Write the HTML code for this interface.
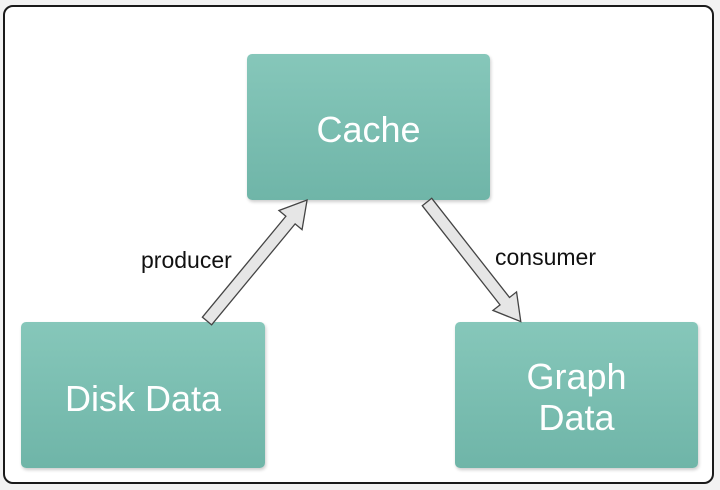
<!DOCTYPE html>
<html><head><style>
html,body{margin:0;padding:0;background:#f2f2f2;}
body{width:720px;height:490px;position:relative;overflow:hidden;font-family:"Liberation Sans",sans-serif;}
.frame{position:absolute;left:3px;top:5px;width:711px;height:479px;border:2px solid #1a1a1a;border-radius:10px;background:#fff;box-sizing:border-box;}
.box{position:absolute;background:linear-gradient(#86c7ba,#6fb5a8);border-radius:5px;box-shadow:1px 2px 3px rgba(0,0,0,0.2);color:#fff;font-size:36px;display:flex;align-items:center;justify-content:center;text-align:center;line-height:41px;box-sizing:border-box;padding-top:4px;}
.lbl{position:absolute;font-size:23px;color:#111;line-height:26px;}
</style></head><body>
<div class="frame"></div>
<div class="box" style="left:247px;top:54px;width:243px;height:146px;">Cache</div>
<div class="box" style="left:21px;top:322px;width:244px;height:146px;padding-top:6px;">Disk Data</div>
<div class="box" style="left:455px;top:322px;width:243px;height:146px;">Graph<br>Data</div>
<div class="lbl" style="left:141px;top:247px;">producer</div>
<div class="lbl" style="left:495px;top:244px;">consumer</div>
<svg width="720" height="490" style="position:absolute;left:0;top:0">
<g transform="translate(207,321) rotate(-50.4)">
<polygon points="0,-6 131,-6 131,-15 157,0 131,15 131,6 0,6" fill="#e6e6e6" stroke="#444" stroke-width="1.3"/>
</g>
<g transform="translate(427,202) rotate(51.9)">
<polygon points="0,-6 126,-6 126,-15 152,0 126,15 126,6 0,6" fill="#e6e6e6" stroke="#444" stroke-width="1.3"/>
</g>
</svg>
</body></html>
